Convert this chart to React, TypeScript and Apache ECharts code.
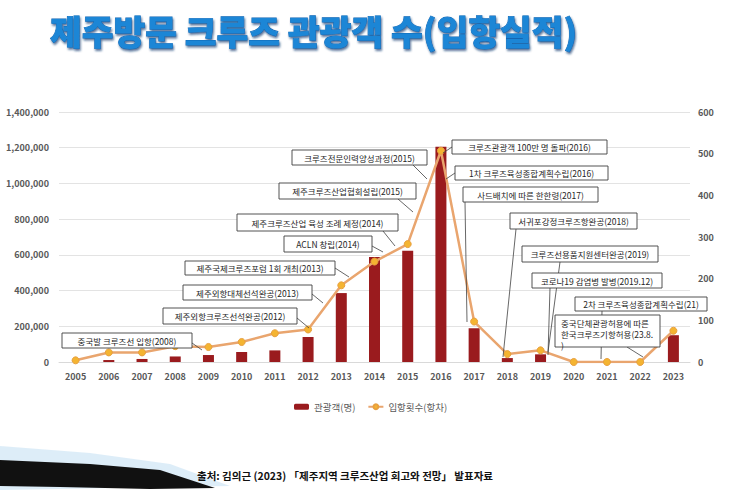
import React, { useEffect, useRef } from 'react';
import * as echarts from 'echarts';

const years = ['2005', '2006', '2007', '2008', '2009', '2010', '2011', '2012', '2013', '2014', '2015', '2016', '2017', '2018', '2019', '2020', '2021', '2022', '2023'];
const visitors = [0, 11000, 17000, 31000, 39000, 56000, 65000, 140000, 386000, 588000, 623000, 1205000, 189000, 22000, 43000, 0, 0, 0, 150000];
const portCalls = [4, 23, 23, 38, 36, 48, 69, 78, 184, 241, 283, 507, 97, 19, 28, 0, 0, 0, 75];

const barName = '관광객(명)';
const lineName = '입항횟수(항차)';
const titleText = '제주방문 크루즈 관광객 수(입항실적)';
const sourceText = '출처: 김의근 (2023) 「제주지역 크루즈산업 회고와 전망」 발표자료';

// annotation boxes: [x, y, w, h], text, leader [x1, y1, x2, y2]
const annotations: { box: number[]; text: string; leader: number[] }[] = [
  { box: [62, 333, 130, 15], text: '중국발 크루즈선 입항(2008)', leader: [192, 343, 202, 350] },
  { box: [163, 308, 134, 16], text: '제주외항크루즈선석완공(2012)', leader: [297, 318, 309, 328] },
  { box: [183, 285, 129, 15], text: '제주외항대체선석완공(2013)', leader: [312, 294, 323, 303] },
  { box: [185, 261, 150, 14], text: '제주국제크루즈포럼 1회 개최(2013)', leader: [335, 268, 349, 277] },
  { box: [284, 236, 88, 16], text: 'ACLN 창립(2014)', leader: [372, 246, 383, 252] },
  { box: [237, 214, 161, 17], text: '제주크루즈산업 육성 조례 제정(2014)', leader: [383, 231, 395, 246] },
  { box: [279, 183, 137, 16], text: '제주크루즈산업협회설립(2015)', leader: [398, 199, 413, 212] },
  { box: [292, 150, 135, 15], text: '크루즈전문인력양성과정(2015)', leader: [413, 165, 427, 179] },
  { box: [452, 140, 155, 14], text: '크루즈관광객 100만 명 돌파(2016)', leader: [452, 147, 443, 153] },
  { box: [455, 166, 153, 14], text: '1차 크루즈육성종합계획수립(2016)', leader: [455, 173, 446, 179] },
  { box: [463, 187, 135, 15], text: '사드배치에 따른 한한령(2017)', leader: [465, 202, 467, 322] },
  { box: [510, 213, 127, 16], text: '서귀포강정크루즈항완공(2018)', leader: [516, 229, 503, 357] },
  { box: [522, 246, 136, 16], text: '크루즈선용품지원센터완공(2019)', leader: [560, 262, 548, 352] },
  { box: [532, 273, 130, 15], text: '코로나19 감염병 발병(2019.12)', leader: [550, 288, 548, 355] },
  { box: [575, 297, 132, 14], text: '2차 크루즈육성종합계획수립(21)', leader: [602, 311, 601, 359] },
  { box: [555, 315, 105, 32], text: '중국단체관광허용에 따른\n한국크루즈기항허용(23.8.\n)', leader: [627, 347, 643, 357] },
];

const FONT = '"Noto Sans CJK KR", "Noto Sans", sans-serif';

export default function App() {
  const ref = useRef<HTMLDivElement>(null);
  useEffect(() => {
    if (!ref.current) return;
    const chart = echarts.init(ref.current, null, { renderer: 'svg' });

    const leaderLines = annotations.map((a) => ({
      type: 'line',
      z: 10,
      shape: { x1: a.leader[0], y1: a.leader[1], x2: a.leader[2], y2: a.leader[3] },
      style: { stroke: '#404040', lineWidth: 0.8 },
    }));
    const boxes: any[] = [];
    annotations.forEach((a) => {
      const [x, y, w, h] = a.box;
      boxes.push({
        type: 'rect',
        z: 11,
        shape: { x, y, width: w, height: h },
        style: { fill: '#ffffff', stroke: '#404040', lineWidth: 0.9 },
      });
      const multi = a.text.indexOf('\n') >= 0;
      boxes.push({
        type: 'text',
        z: 12,
        x: multi ? x + 6 : x + w / 2,
        y: multi ? y + 2 : y + h / 2,
        style: {
          text: a.text,
          fontSize: 8.5,
          fontFamily: FONT,
          fill: '#262626',
          align: multi ? 'left' : 'center',
          verticalAlign: multi ? 'top' : 'middle',
          lineHeight: 11,
        },
      });
    });

    chart.setOption({
      animation: false,
      backgroundColor: '#ffffff',
      textStyle: { fontFamily: FONT },
      grid: { left: 59, right: 40, top: 112, bottom: 141 },
      legend: {
        left: 289,
        top: 397,
        itemWidth: 15,
        itemHeight: 6,
        itemGap: 12,
        textStyle: { fontSize: 9.5, color: '#595959', fontFamily: FONT },
        data: [barName, lineName],
      },
      xAxis: {
        type: 'category',
        data: years,
        axisTick: { show: false },
        axisLine: { lineStyle: { color: '#D9D9D9' } },
        axisLabel: { color: '#595959', fontSize: 9, fontWeight: 'bold', margin: 10 },
      },
      yAxis: [
        {
          type: 'value',
          min: 0,
          max: 1400000,
          interval: 200000,
          axisLabel: {
            color: '#595959',
            fontSize: 9,
            fontWeight: 'bold',
            margin: 10,
            formatter: (v: number) => v.toLocaleString('en-US'),
          },
          splitLine: { lineStyle: { color: '#E3E3E3' } },
          axisLine: { show: false },
          axisTick: { show: false },
        },
        {
          type: 'value',
          min: 0,
          max: 600,
          interval: 100,
          position: 'right',
          axisLabel: { color: '#595959', fontSize: 9, fontWeight: 'bold', margin: 8 },
          splitLine: { show: false },
          axisLine: { show: false },
          axisTick: { show: false },
        },
      ],
      series: [
        {
          name: barName,
          type: 'bar',
          data: visitors,
          barWidth: 11,
          itemStyle: { color: '#9A1B1E' },
        },
        {
          name: lineName,
          type: 'line',
          yAxisIndex: 1,
          data: portCalls,
          symbol: 'circle',
          symbolSize: 7,
          lineStyle: { color: '#E9A56E', width: 2.5 },
          itemStyle: { color: '#F4B431', borderColor: '#E8A040', borderWidth: 1 },
          z: 5,
        },
      ],
      graphic: [
        {
          type: 'polygon',
          z: 1,
          shape: { points: [[0, 446], [90, 453], [170, 464], [230, 486], [0, 490]] },
          style: { fill: 'rgba(180,215,240,0.45)' },
        },
        {
          type: 'polygon',
          z: 1,
          shape: { points: [[0, 460], [90, 464], [160, 470], [215, 488], [150, 489], [60, 487], [0, 486]] },
          style: { fill: '#111111' },
        },
        {
          type: 'text',
          z: 20,
          x: 50,
          y: 13,
          style: {
            text: titleText,
            fontSize: 34.5,
            fontWeight: 900,
            fontFamily: FONT,
            fill: '#1E86D6',
            stroke: '#1366B2',
            lineWidth: 0.8,
            textShadowColor: 'rgba(8,55,110,0.7)',
            textShadowOffsetX: 1,
            textShadowOffsetY: 2,
            textShadowBlur: 2,
          },
        },
        {
          type: 'text',
          z: 20,
          x: 197,
          y: 470,
          style: {
            text: sourceText,
            fontSize: 10.5,
            fontWeight: 'bold',
            fontFamily: FONT,
            fill: '#111111',
          },
        },
        ...leaderLines,
        ...boxes,
      ],
    });
    return () => chart.dispose();
  }, []);
  return <div ref={ref} style={{ position: 'fixed', left: 0, top: 0, width: 730, height: 503 }} />;
}
